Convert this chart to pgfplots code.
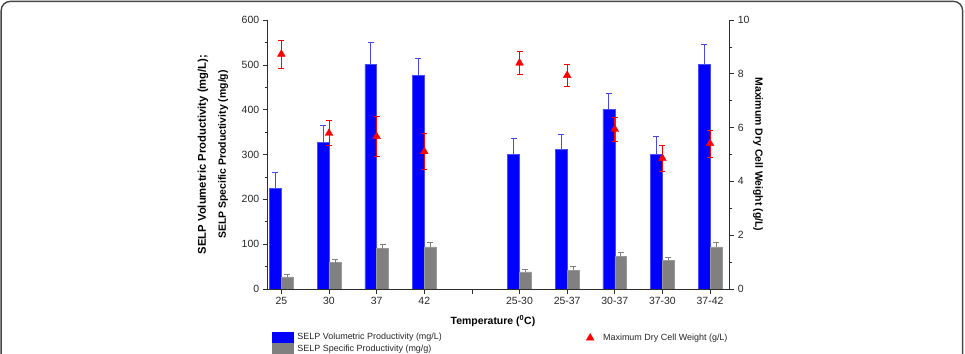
\documentclass[border=0pt]{standalone}
\usepackage{fontspec}
\setmainfont{Liberation Sans}
\usepackage{pgfplots}
\usepackage{pgfplotstable}
\pgfplotsset{compat=1.18}

\definecolor{volblue}{RGB}{0,0,255}
\definecolor{volerr}{RGB}{70,70,245}
\definecolor{specgray}{RGB}{128,128,128}
\definecolor{axisgray}{RGB}{45,45,45}
\definecolor{framegray}{RGB}{70,70,70}

\pgfplotstableread{
x vol volerr spec specerr
0 225 35 27 6
1 327 38 59 7
2 501 49 90 10
3 476 39 94 10
5 300 36 38 6
6 311 34 42 8
7 401 35 72 10
8 300 40 64 7
9 501 45 94 10
}\prodtable

\pgfplotstableread{
x dcw err
0 8.73 0.52
1 5.79 0.47
2 5.67 0.73
3 5.11 0.66
5 8.40 0.42
6 7.94 0.41
7 5.94 0.44
8 4.86 0.47
9 5.41 0.50
}\dcwtable

% half a bar width in x units (11.8bp bars, 47.63bp per category)
\def\halfbar{0.1239}

\pgfplotsset{
  common/.style={
    at={(267.7bp,65bp)}, anchor=south west,
    scale only axis, width=461.6bp, height=269bp,
    xmin=-0.287, xmax=9.405,
    axis line style={axisgray, line width=0.8bp, -},
    tick align=outside,
    major tick length=5bp, minor tick length=3bp,
    tick style={axisgray, line width=0.6bp},
    ticklabel style={font=\fontsize{10.5}{12}\selectfont, text=black!85},
    /pgf/number format/assume math mode=true,
    label style={font=\bfseries\fontsize{10.5}{12.6}\selectfont, text=black},
    legend style={draw=none, fill=none, inner sep=0pt, outer sep=0pt,
      font=\fontsize{9}{10}\selectfont, text=black!85,
      row sep=0pt, nodes={inner sep=0.7bp, outer sep=0pt}},
    legend cell align=left,
  },
  /pgfplots/error bars/caps/.style={
    /pgfplots/error bars/error mark=-,
    /pgfplots/error bars/error mark options={rotate=90, draw=#1, line width=0.8bp, mark size=3bp},
    /pgfplots/error bars/error bar style={draw=#1, line width=0.8bp}},
  erronly/.style={forget plot, draw=none, mark=none},
}

\begin{document}
\begin{tikzpicture}
\path[use as bounding box] (0,0) rectangle (965bp,354bp);
\draw[framegray, line width=1.4bp, rounded corners=9bp]
  (1.2bp,-20bp) -- (1.2bp,352.6bp) -- (962.6bp,352.6bp) -- (962.6bp,-20bp);

% left axis: productivities as bars
\begin{axis}[
  common,
  ymin=0, ymax=600,
  axis x line*=bottom, axis y line*=left,
  xtick={0,...,9},
  xticklabels={25,30,37,42,{},25-30,25-37,30-37,37-30,37-42},
  ytick={0,100,...,600}, minor y tick num=1,
  xlabel={Temperature (\textsuperscript{0}C)},
  xlabel style={at={(axis description cs:0.488,-0.119)}, anchor=center},
  ylabel={{\fontsize{11.3}{13}\selectfont SELP Volumetric Productivity (mg/L);}\\[7.5bp]SELP Specific Productivity (mg/g)},
  ylabel style={align=center, at={(axis description cs:-0.1185,0.5)}, anchor=center},
  legend style={at={(axis description cs:0.010,-0.1593)}, anchor=north west},
]
\addlegendimage{legend image code/.code={\fill[volblue] (0bp,-5.4bp) rectangle (21bp,5.4bp); \path (24bp,0bp);}}
\addlegendentry{SELP Volumetric Productivity (mg/L)}
\addlegendimage{legend image code/.code={\fill[specgray] (0bp,-5.4bp) rectangle (21bp,5.4bp); \path (24bp,0bp);}}
\addlegendentry{SELP Specific Productivity (mg/g)}

\addplot[forget plot, ybar, bar width=11.8bp, bar shift=-5.9bp,
  fill=volblue, draw=volblue!70!white, line width=0.5bp]
  table[x=x, y=vol] {\prodtable};
\addplot[forget plot, ybar, bar width=11.8bp, bar shift=5.9bp,
  fill=specgray, draw=specgray!80!white, line width=0.5bp]
  table[x=x, y=spec] {\prodtable};

% upper error bars, centred on each bar
\addplot[erronly, error bars/.cd, y dir=plus, y explicit, caps=volerr]
  table[x expr=\thisrow{x}-\halfbar, y=vol, y error=volerr] {\prodtable};
\addplot[erronly, error bars/.cd, y dir=plus, y explicit, caps=specgray]
  table[x expr=\thisrow{x}+\halfbar, y=spec, y error=specerr] {\prodtable};
\end{axis}

% right axis: maximum dry cell weight
\begin{axis}[
  common,
  ymin=0, ymax=10,
  axis y line*=right, axis x line=none,
  ytick={0,2,...,10}, minor y tick num=1,
  ylabel={Maximum Dry Cell Weight (g/L)},
  ylabel style={rotate=180, at={(axis description cs:1.0622,0.5)}, anchor=center},
  legend style={at={(axis description cs:0.6852,-0.182)}, anchor=west},
]
\addlegendimage{legend image code/.code={\draw[red, mark=triangle*, mark size=4.5bp, only marks] plot coordinates {(6bp,0bp)}; \path (0bp,0bp) (18bp,0bp);}}
\addlegendentry{Maximum Dry Cell Weight (g/L)}

\addplot[forget plot, only marks, mark=triangle*, mark size=4.5bp, red,
  error bars/.cd, y dir=both, y explicit, caps=red]
  table[x=x, y=dcw, y error=err] {\dcwtable};
\end{axis}
\end{tikzpicture}
\end{document}
